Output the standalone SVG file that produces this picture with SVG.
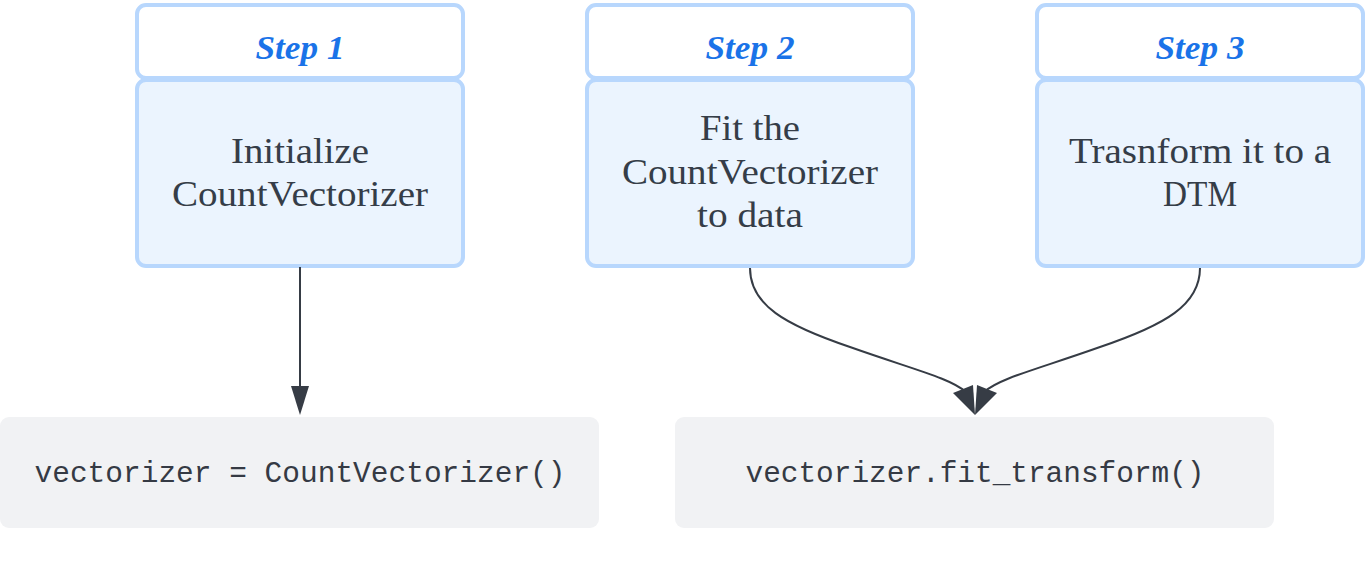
<svg xmlns="http://www.w3.org/2000/svg" width="1365" height="564" viewBox="0 0 1365 564">
<style>
.hdr{fill:#ffffff;stroke:#b8d7fd;stroke-width:4}
.body{fill:#ebf4fe;stroke:#b8d7fd;stroke-width:4}
.step{font-family:"Liberation Serif",serif;font-weight:bold;font-style:italic;font-size:33px;fill:#1a73e8;text-anchor:middle}
.txt{font-family:"Liberation Serif",serif;font-size:35px;fill:#353d48;text-anchor:middle}
.code{fill:#f1f2f4}
.mono{font-family:"Liberation Mono",monospace;font-size:29px;fill:#353a44;text-anchor:middle}
.edge{fill:none;stroke:#363c45;stroke-width:2}
.head{fill:#363c45}
</style>
<rect width="1365" height="564" fill="#ffffff"/>
<g id="step1">
<rect class="hdr" x="137" y="5" width="326" height="73" rx="9"/>
<text class="step" x="300" y="59" textLength="89" lengthAdjust="spacingAndGlyphs">Step 1</text>
<rect class="body" x="137" y="80" width="326" height="186" rx="9"/>
<text class="txt" x="300" y="163" textLength="138" lengthAdjust="spacingAndGlyphs">Initialize</text>
<text class="txt" x="300" y="206" textLength="256" lengthAdjust="spacingAndGlyphs">CountVectorizer</text>
</g>
<g id="step2">
<rect class="hdr" x="587" y="5" width="326" height="73" rx="9"/>
<text class="step" x="750" y="59" textLength="89" lengthAdjust="spacingAndGlyphs">Step 2</text>
<rect class="body" x="587" y="80" width="326" height="186" rx="9"/>
<text class="txt" x="750" y="140" textLength="100" lengthAdjust="spacingAndGlyphs">Fit the</text>
<text class="txt" x="750" y="184" textLength="256" lengthAdjust="spacingAndGlyphs">CountVectorizer</text>
<text class="txt" x="750" y="227" textLength="106" lengthAdjust="spacingAndGlyphs">to data</text>
</g>
<g id="step3">
<rect class="hdr" x="1037" y="5" width="326" height="73" rx="9"/>
<text class="step" x="1200" y="59" textLength="89" lengthAdjust="spacingAndGlyphs">Step 3</text>
<rect class="body" x="1037" y="80" width="326" height="186" rx="9"/>
<text class="txt" x="1200" y="163" textLength="262" lengthAdjust="spacingAndGlyphs">Trasnform it to a</text>
<text class="txt" x="1200" y="206" textLength="74" lengthAdjust="spacingAndGlyphs">DTM</text>
</g>
<g id="code1">
<rect class="code" x="0" y="417" width="599" height="111" rx="9"/>
<text class="mono" x="300" y="482" textLength="531" lengthAdjust="spacingAndGlyphs">vectorizer = CountVectorizer()</text>
</g>
<g id="code2">
<rect class="code" x="675" y="417" width="599" height="111" rx="9"/>
<text class="mono" x="975" y="482" textLength="459" lengthAdjust="spacingAndGlyphs">vectorizer.fit_transform()</text>
</g>
<g id="connectors">
<line class="edge" x1="300" y1="267" x2="300" y2="390"/>
<polygon class="head" points="291,386 309,386 300,415"/>
<path class="edge" d="M750,268 C750,305 785,325 850,347 C915,370 950,378 966,392"/>
<polygon class="head" points="953,393 973,385 975,415"/>
<path class="edge" d="M1200,268 C1200,305 1165,325 1100,347 C1035,370 1000,378 984,392"/>
<polygon class="head" points="997,393 977,385 975,415"/>
</g>
</svg>
